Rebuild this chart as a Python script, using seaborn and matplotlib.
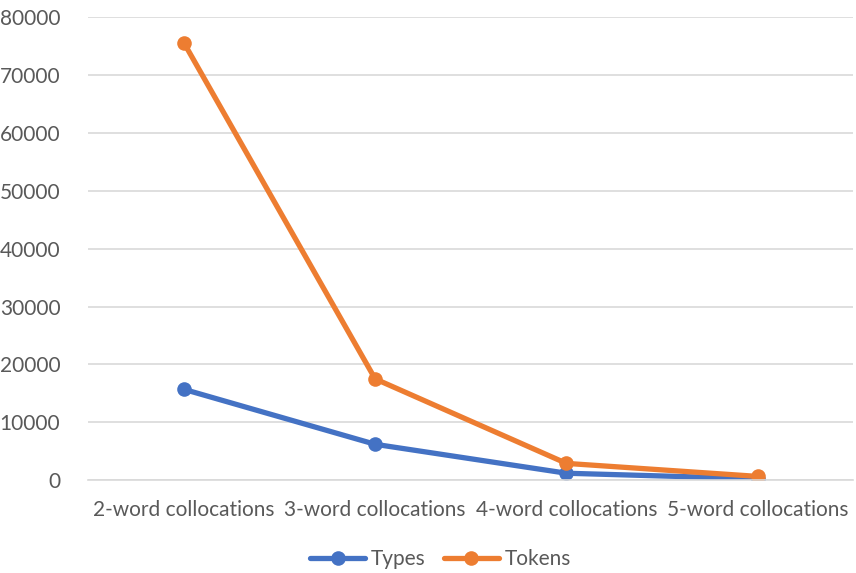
import pandas as pd
import matplotlib.pyplot as plt
import seaborn as sns

categories = ["2-word collocations", "3-word collocations", "4-word collocations", "5-word collocations"]
types = [15700, 6200, 1200, 250]
tokens = [75600, 17500, 2900, 650]

df = pd.DataFrame({
    "category": categories * 2,
    "value": types + tokens,
    "series": ["Types"] * len(categories) + ["Tokens"] * len(categories),
})

sns.set_style("white")
plt.rcParams["font.family"] = ["Lato", "DejaVu Sans"]

fig = plt.figure(figsize=(8.56, 5.73), dpi=100)
ax = fig.add_axes([0.103, 0.162, 0.894, 0.808])

sns.lineplot(df, x="category", y="value", hue="series",
             palette={"Types": "#4472c4", "Tokens": "#ed7d31"},
             marker="o", markersize=10.5, markeredgewidth=0, linewidth=3.8,
             sort=False, ax=ax, legend=False)

ax.set_xlim(-0.5, len(categories) - 0.5)
ax.set_ylim(0, 80000)
ax.set_yticks(range(0, 80001, 10000))
ax.grid(axis="y", color="#d9d9d9", linewidth=1.2)
ax.set_axisbelow(True)
for s in ["top", "right", "left"]:
    ax.spines[s].set_visible(False)
ax.spines["bottom"].set_color("#d9d9d9")
ax.spines["bottom"].set_linewidth(1.2)
ax.tick_params(axis="both", length=0, labelsize=15, labelcolor="#595959")
ax.tick_params(axis="y", pad=20)
ax.tick_params(axis="x", pad=14)
ax.set_xlabel("")
ax.set_ylabel("")

handles = [plt.Line2D([], [], color=c, marker="o", markersize=10.5, linewidth=3.8, markeredgewidth=0)
           for c in ["#4472c4", "#ed7d31"]]
fig.legend(handles, ["Types", "Tokens"], loc="center", bbox_to_anchor=(0.515, 0.024),
           ncol=2, frameon=False, fontsize=15, labelcolor="#595959",
           handlelength=2.6, columnspacing=0.9, handletextpad=0.3)

fig.savefig("out.png", dpi=100)
